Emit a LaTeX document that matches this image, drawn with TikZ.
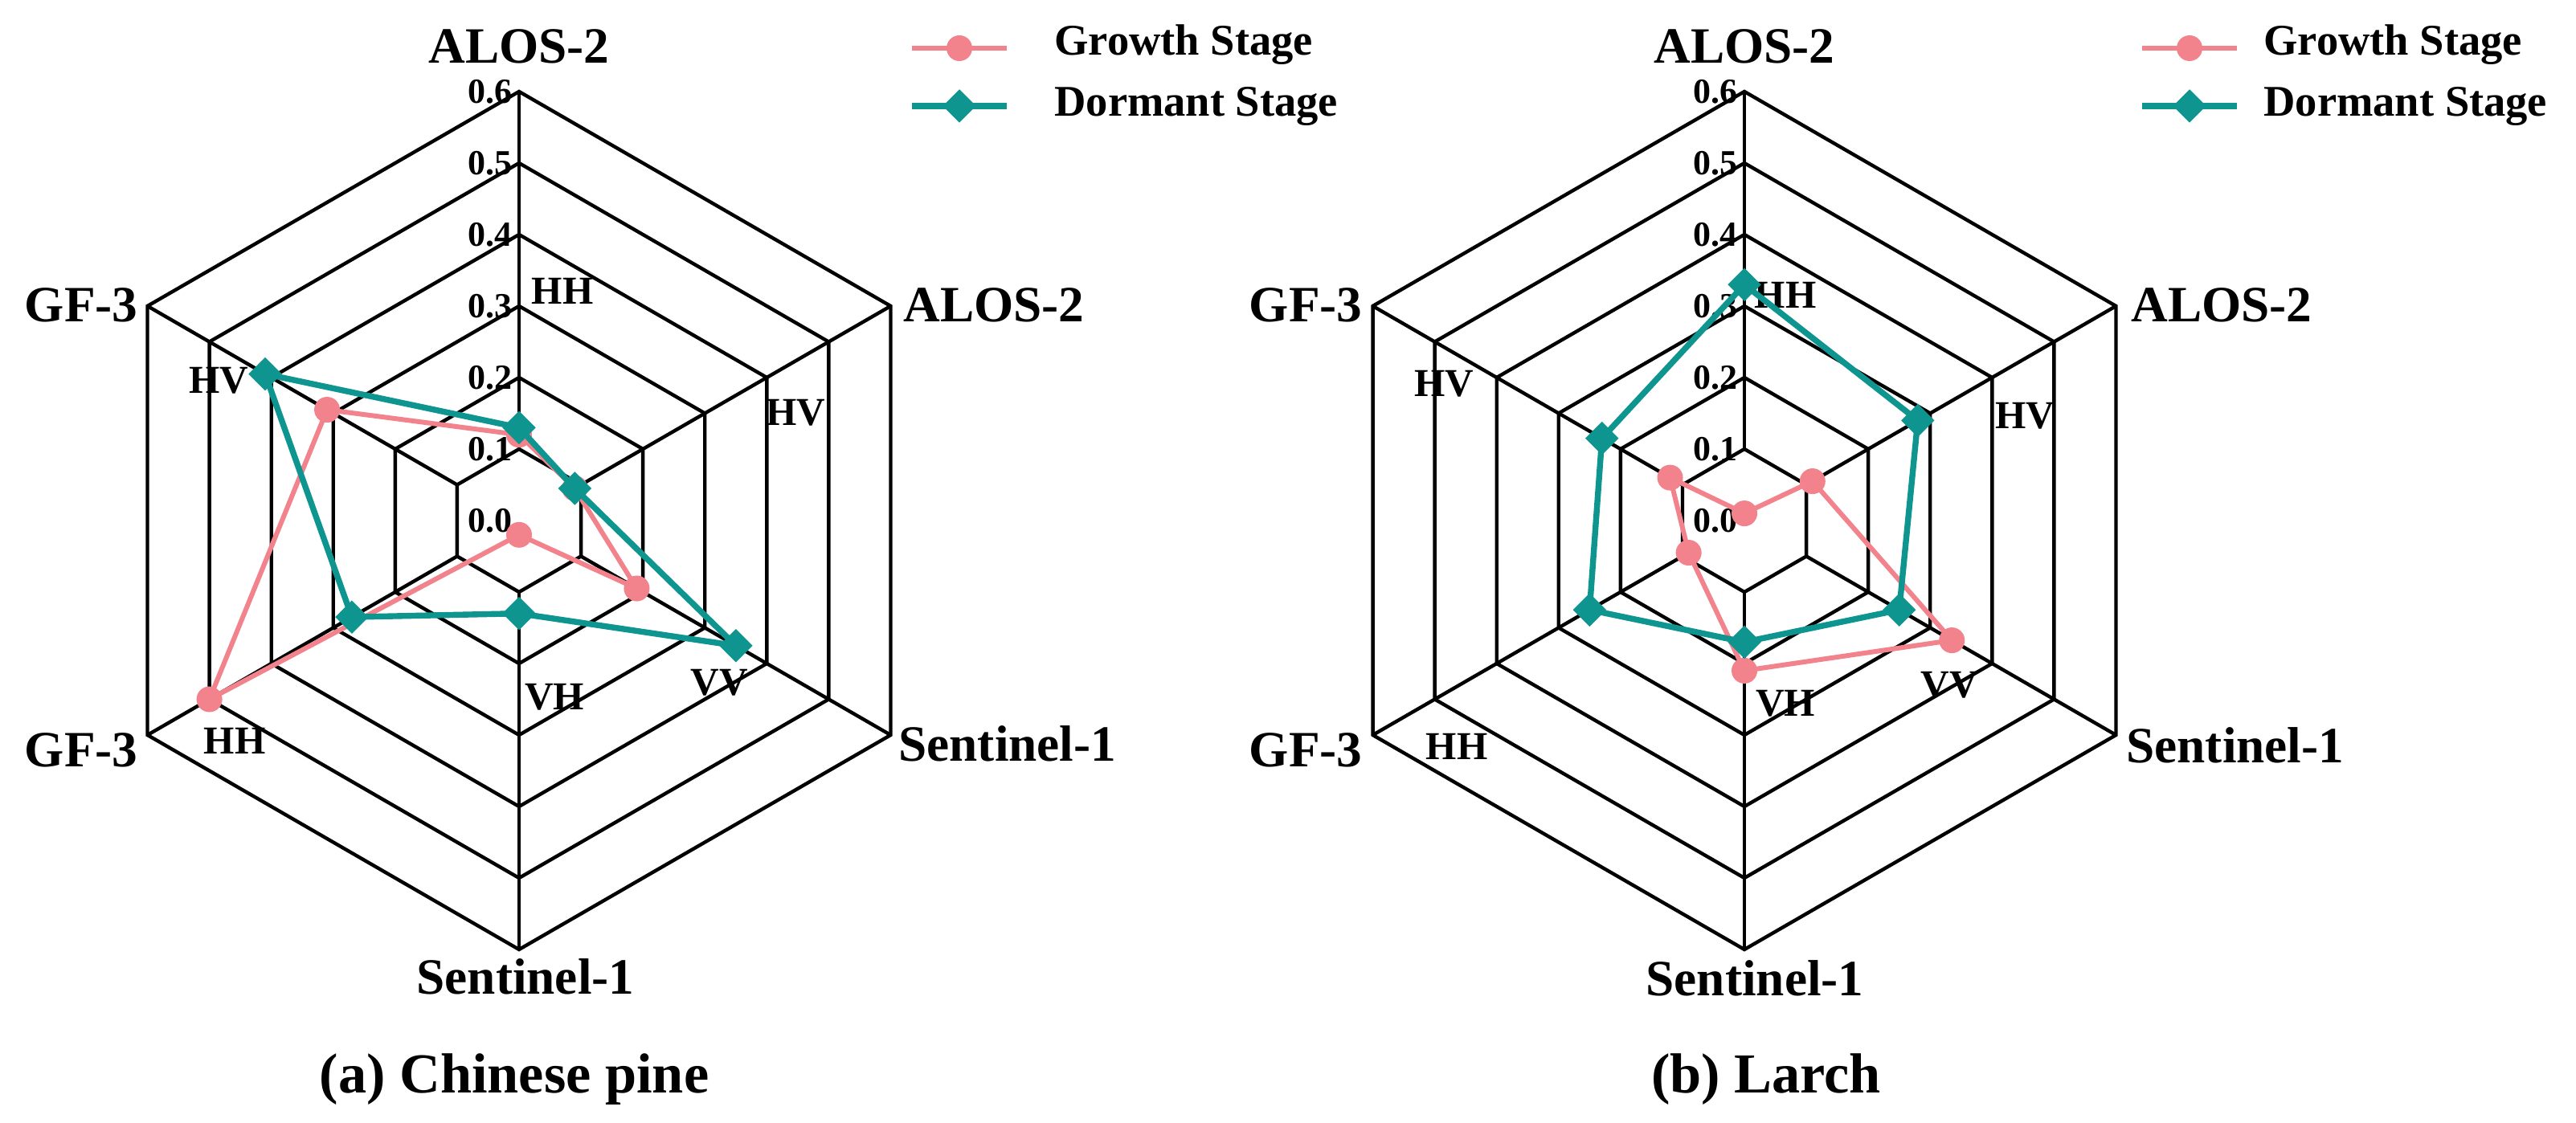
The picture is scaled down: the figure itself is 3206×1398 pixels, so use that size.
\documentclass[tikz,border=0pt]{standalone}
\usepackage{fontspec}
\setmainfont{Liberation Serif}
\usetikzlibrary{shapes.geometric}
\definecolor{gro}{HTML}{F2838C}
\definecolor{dor}{HTML}{0E9590}
\begin{document}
\begin{tikzpicture}[x=0.01cm,y=-0.01cm,
  grid/.style={black,line width=1.25pt,line join=miter},
  outl/.style={font=\fontsize{18}{20}\selectfont\bfseries},
  legt/.style={font=\fontsize{15.5}{18}\selectfont\bfseries,anchor=west},
  inl/.style={font=\fontsize{14}{16}\selectfont\bfseries},
  tick/.style={font=\fontsize{12.5}{14}\selectfont\bfseries,anchor=east,inner sep=1pt},
  gline/.style={gro,line width=1.7pt,line join=round},
  dline/.style={dor,line width=2.1pt,line join=round},
  gmark/.style={circle,fill=gro,inner sep=0pt,minimum size=0.32cm},
  dmark/.style={diamond,fill=dor,inner sep=0pt,minimum width=0.42cm,minimum height=0.42cm},
  ttl/.style={font=\fontsize{20}{22}\selectfont\bfseries}]
\useasboundingbox (0,0) rectangle (3206,1398);
\def\R{534}
% ---------- grids ----------
\foreach \cx/\tag in {646/A,2171/B}{
  \def\cy{648}
  \foreach \i in {1,...,6}{
    \foreach \k in {0,...,5}{
      \coordinate (\tag r\i v\k) at ({\cx+\i*\R/6*sin(60*\k)},{\cy-\i*\R/6*cos(60*\k)});
    }
    \draw[grid] (\tag r\i v0)--(\tag r\i v1)--(\tag r\i v2)--(\tag r\i v3)--(\tag r\i v4)--(\tag r\i v5)--cycle;
  }
  \foreach \k in {0,...,5}{
    \draw[grid] (\tag r1v\k) -- (\tag r6v\k);
  }
  \foreach \i in {0,...,6}{
    \node[tick] (t\tag\i) at ({\cx-4},{\cy-\i*\R/6}) {0.\i};
  }
}
% ---------- Chart A ----------
\node[outl] (a1) at (646,58) {ALOS-2};
\node[outl,anchor=west] (a2) at (1112,380) {ALOS-2};
\node[outl,anchor=west] (a3) at (1106,926) {Sentinel-1};
\node[outl] (a4) at (654,1216) {Sentinel-1};
\node[outl,anchor=east] (a5) at (184,934) {GF-3};
\node[outl,anchor=east] (a6) at (184,380) {GF-3};
\node[inl] (ia1) at (700,362) {HH};
\node[inl] (ia2) at (990,514) {HV};
\node[inl] (ia3) at (895,850) {VV};
\node[inl] (ia4) at (690,868) {VH};
\node[inl] (ia5) at (292,922) {HH};
\node[inl] (ia6) at (272,474) {HV};
\node[ttl] (ta) at (640,1344) {(a) Chinese pine};
\def\cy{648}
\def\cx{646}
\foreach \tag/\vals/\st/\mk in {ga/{0.12,0.09,0.19,0.02,0.50,0.31}/gline/gmark, da/{0.13,0.09,0.35,0.13,0.27,0.41}/dline/dmark}{
  \foreach \v [count=\k from 0] in \vals{
    \coordinate (\tag\k) at ({\cx+\v*890*sin(60*\k)},{\cy-\v*890*cos(60*\k)});
  }
  \draw[\st] (\tag0)--(\tag1)--(\tag2)--(\tag3)--(\tag4)--(\tag5)--cycle;
  \foreach \k in {0,...,5}{ \node[\mk] (m\tag\k) at (\tag\k) {}; }
}
% ---------- Chart B ----------
\node[outl] (b1) at (2171,58) {ALOS-2};
\node[outl,anchor=west] (b2) at (2640,380) {ALOS-2};
\node[outl,anchor=west] (b3) at (2634,928) {Sentinel-1};
\node[outl] (b4) at (2184,1218) {Sentinel-1};
\node[outl,anchor=east] (b5) at (1708,934) {GF-3};
\node[outl,anchor=east] (b6) at (1708,380) {GF-3};
\node[inl] (ib1) at (2222,367) {HH};
\node[inl] (ib2) at (2520,518) {HV};
\node[inl] (ib3) at (2426,853) {VV};
\node[inl] (ib4) at (2222,876) {VH};
\node[inl] (ib5) at (1813,929) {HH};
\node[inl] (ib6) at (1797,478) {HV};
\node[ttl] (tb) at (2198,1344) {(b) Larch};
\def\cx{2171}
\foreach \tag/\vals/\st/\mk in {gb/{0.01,0.11,0.335,0.21,0.09,0.12}/gline/gmark, db/{0.33,0.28,0.25,0.17,0.25,0.23}/dline/dmark}{
  \foreach \v [count=\k from 0] in \vals{
    \coordinate (\tag\k) at ({\cx+\v*890*sin(60*\k)},{\cy-\v*890*cos(60*\k)});
  }
  \draw[\st] (\tag0)--(\tag1)--(\tag2)--(\tag3)--(\tag4)--(\tag5)--cycle;
  \foreach \k in {0,...,5}{ \node[\mk] (m\tag\k) at (\tag\k) {}; }
}
% ---------- Legends ----------
\foreach \x/\tx/\tag in {1135/1300/L,2666/2805/R}{
  \coordinate (\tag gs) at (\x,60); \coordinate (\tag ge) at (\x+118,60);
  \coordinate (\tag ds) at (\x,132); \coordinate (\tag de) at (\x+118,132);
  \draw[gline] (\tag gs) -- (\tag ge);
  \node[gmark] (\tag gm) at (\x+59,60) {};
  \draw[dline] (\tag ds) -- (\tag de);
  \node[dmark] (\tag dm) at (\x+59,132) {};
  \node[legt] (\tag gt) at (\tx,56) {Growth Stage};
  \node[legt] (\tag dt) at (\tx,132) {Dormant Stage};
}
\end{tikzpicture}
\end{document}
